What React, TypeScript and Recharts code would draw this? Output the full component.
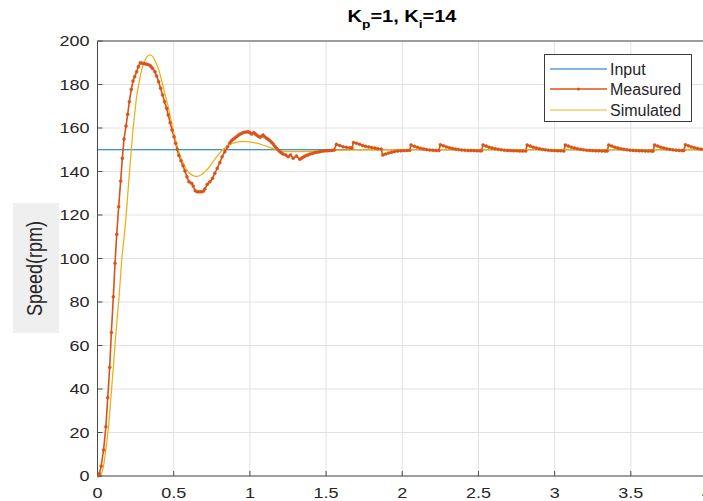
import { CartesianGrid, Legend, Line, LineChart, XAxis, YAxis } from "recharts";

// time (s), speed (rpm)
const inputPoints: [number, number][] = [
  [0, 150],
  [4, 150],
];

const measuredPoints: [number, number][] = [
  [0, 0], [0.012, 1], [0.024, 4.5], [0.04, 12], [0.055, 22.7], [0.067, 36], [0.08, 50],
  [0.091, 66], [0.104, 82.4], [0.115, 97.8], [0.126, 111.1], [0.139, 123.8], [0.152, 135.6],
  [0.163, 146.1], [0.174, 154.9], [0.187, 160.9], [0.198, 166.3], [0.209, 172.1], [0.222, 177.8],
  [0.233, 181.6], [0.244, 183.6], [0.257, 185.9], [0.268, 188.2], [0.281, 190], [0.292, 189.8],
  [0.305, 189.6], [0.318, 189.4], [0.33, 189.2], [0.344, 188.8], [0.353, 188.1], [0.362, 187.4],
  [0.377, 185.9], [0.388, 183.9], [0.401, 181.3], [0.414, 178.3], [0.427, 175.2], [0.44, 172.1],
  [0.454, 169.1], [0.464, 166], [0.477, 162.4], [0.489, 159.1], [0.502, 156], [0.513, 153],
  [0.523, 150.2], [0.534, 147.4], [0.548, 145], [0.561, 142.7], [0.574, 140.2], [0.587, 137.6],
  [0.6, 135.3], [0.618, 134.6], [0.628, 133.3], [0.641, 131.2], [0.654, 130.7], [0.667, 130.7],
  [0.68, 130.7], [0.694, 130.9], [0.705, 132], [0.72, 134.1], [0.738, 135.3], [0.755, 136.9],
  [0.77, 139.2], [0.786, 141.5], [0.803, 144.1], [0.818, 146.8], [0.836, 149.1], [0.854, 151.4],
  [0.869, 153.2], [0.879, 154.1], [0.89, 154.8], [0.901, 155.4], [0.913, 156], [0.923, 156.6],
  [0.934, 157.1], [0.945, 157.5], [0.956, 157.9], [0.969, 158.1], [0.982, 158.3], [0.991, 158.2],
  [1.0, 157.9], [1.011, 157.2], [1.026, 157.9], [1.035, 157.3], [1.044, 156.8], [1.055, 156.2],
  [1.066, 155.7], [1.077, 156.2], [1.087, 156.8], [1.098, 156], [1.11, 155.3], [1.12, 154.8],
  [1.131, 154.2], [1.142, 153.4], [1.153, 152.6], [1.164, 151.6], [1.175, 150.7], [1.186, 149.9],
  [1.197, 149.1], [1.208, 148.5], [1.218, 148], [1.236, 147.6], [1.251, 146.8], [1.267, 147.6],
  [1.284, 146.1], [1.306, 147.1], [1.328, 145.6], [1.341, 146.2], [1.354, 146.8], [1.366, 147.2],
  [1.38, 147.6], [1.393, 148], [1.408, 148.3], [1.422, 148.6], [1.437, 148.8], [1.452, 149],
  [1.466, 149.2], [1.481, 149.4], [1.496, 149.5], [1.51, 149.5], [1.525, 149.6], [1.539, 149.7],
  [1.553, 149.9], [1.568, 152.5], [1.59, 152], [1.612, 151.4], [1.634, 151.1], [1.656, 150.9],
  [1.67, 150.8], [1.68, 153.3], [1.7, 153], [1.72, 152.5], [1.74, 152], [1.76, 151.6],
  [1.78, 151.3], [1.8, 151], [1.82, 150.8], [1.84, 150.5], [1.862, 150.3], [1.872, 147.6],
  [1.89, 148], [1.91, 148.5], [1.93, 148.9], [1.95, 149.2], [1.97, 149.4], [1.99, 149.5],
  [2.01, 149.6], [2.03, 149.7], [2.048, 149.7], [2.058, 152.2], [2.08, 151.6], [2.1, 151.1],
  [2.12, 150.7], [2.14, 150.4], [2.16, 150.1], [2.18, 149.9], [2.2, 149.8], [2.22, 149.7],
  [2.24, 149.6], [2.25, 152.3], [2.27, 151.8], [2.29, 151.3], [2.31, 150.9], [2.33, 150.6],
  [2.35, 150.3], [2.37, 150.1], [2.39, 149.9], [2.41, 149.8], [2.43, 149.7], [2.45, 149.6],
  [2.47, 149.6], [2.49, 149.5], [2.51, 149.5], [2.52, 149.5], [2.53, 152.2], [2.55, 151.7],
  [2.57, 151.2], [2.59, 150.8], [2.61, 150.5], [2.63, 150.2], [2.65, 150], [2.67, 149.8],
  [2.69, 149.7], [2.71, 149.6], [2.73, 149.5], [2.75, 149.5], [2.77, 149.4], [2.79, 149.4],
  [2.81, 149.4], [2.82, 152.2], [2.84, 151.7], [2.86, 151.2], [2.88, 150.8], [2.9, 150.5],
  [2.92, 150.2], [2.94, 150], [2.96, 149.8], [2.98, 149.7], [3.0, 149.6], [3.02, 149.5],
  [3.04, 149.5], [3.06, 149.4], [3.07, 152.2], [3.09, 151.7], [3.11, 151.2], [3.13, 150.8],
  [3.15, 150.5], [3.17, 150.2], [3.19, 150], [3.21, 149.8], [3.23, 149.7], [3.25, 149.6],
  [3.27, 149.5], [3.29, 149.5], [3.31, 149.4], [3.33, 149.4], [3.345, 149.4], [3.355, 152.2],
  [3.375, 151.7], [3.395, 151.2], [3.415, 150.8], [3.435, 150.5], [3.455, 150.2], [3.475, 150],
  [3.495, 149.8], [3.515, 149.7], [3.535, 149.6], [3.555, 149.5], [3.575, 149.5], [3.595, 149.4],
  [3.615, 149.4], [3.635, 149.4], [3.646, 149.4], [3.656, 152.2], [3.676, 151.7], [3.696, 151.2],
  [3.716, 150.8], [3.736, 150.5], [3.756, 150.2], [3.776, 150], [3.796, 149.8], [3.816, 149.7],
  [3.836, 149.6], [3.848, 149.6], [3.858, 152.3], [3.878, 151.8], [3.898, 151.3], [3.918, 150.9],
  [3.938, 150.6], [3.958, 150.3], [3.978, 150.1], [4.0, 149.9],
];

const simulatedPoints: [number, number][] = [
  [0, 0], [0.02, 0.5], [0.035, 3], [0.049, 9], [0.06, 15], [0.073, 23], [0.088, 36],
  [0.104, 50], [0.12, 65], [0.141, 82], [0.16, 100], [0.175, 110], [0.187, 119], [0.198, 129],
  [0.209, 139], [0.22, 148.5], [0.231, 157.6], [0.244, 166.5], [0.257, 174.4], [0.273, 181],
  [0.29, 186.7], [0.306, 190.2], [0.322, 192.5], [0.344, 193.6], [0.366, 192.5], [0.382, 190.3],
  [0.399, 187.4], [0.415, 183.5], [0.431, 179], [0.447, 174.5], [0.464, 169.8], [0.48, 164.5],
  [0.497, 159.1], [0.513, 154.3], [0.53, 149.9], [0.546, 146.5], [0.563, 143.8], [0.579, 141.6],
  [0.595, 139.9], [0.612, 138.8], [0.628, 138.1], [0.645, 137.8], [0.661, 137.9], [0.678, 138.4],
  [0.694, 139.2], [0.711, 140.3], [0.727, 141.5], [0.743, 143], [0.759, 144.5], [0.776, 146.1],
  [0.792, 147.6], [0.808, 149], [0.825, 150.2], [0.841, 151.1], [0.858, 151.9], [0.874, 152.5],
  [0.89, 153], [0.912, 153.4], [0.934, 153.7], [0.962, 153.8], [0.989, 153.7], [1.016, 153.4],
  [1.044, 153], [1.071, 152.5], [1.098, 151.9], [1.125, 151.2], [1.153, 150.5], [1.18, 149.9],
  [1.208, 149.4], [1.235, 149.2], [1.262, 149.1], [1.3, 149.1], [1.35, 149.2], [1.4, 149.3],
  [1.5, 149.5], [1.6, 149.8], [1.7, 150], [2, 150], [4, 150],
];

const xTicks = [0, 0.5, 1, 1.5, 2, 2.5, 3, 3.5, 4];
const yTicks = [0, 20, 40, 60, 80, 100, 120, 140, 160, 180, 200];
const seriesNames = ["Input", "Measured", "Simulated"];
const seriesColors = ["#0072BD", "#D95319", "#EDB120"];

const FONT = "'Liberation Sans', Arial, sans-serif";
const AXIS = "#4a4a4a";

const toRows = (pts: [number, number][]) => pts.map(([t, v]) => ({ t, v }));

function XTick({ x, y, payload }: any) {
  return (
    <g transform={`translate(${x},${y}) scale(1.2,1)`}>
      <text x={0} y={0} dy="0.71em" textAnchor="middle" fill="#262626" fontSize={15} fontFamily={FONT}>
        {payload.value}
      </text>
    </g>
  );
}

function YTick({ x, y, payload }: any) {
  return (
    <g transform={`translate(${x},${y}) scale(1.2,1)`}>
      <text x={0} y={0} dy="0.355em" textAnchor="end" fill="#262626" fontSize={15} fontFamily={FONT}>
        {payload.value}
      </text>
    </g>
  );
}

function LegendBox() {
  const rowY = [14, 34, 55];
  return (
    <div style={{ width: 148, height: 68, boxSizing: "border-box", border: "1px solid #3c3c3c", background: "#fff" }}>
      <svg width={146} height={66} style={{ display: "block" }}>
        {seriesNames.map((name, i) => (
          <g key={name}>
            <line x1={5} x2={62} y1={rowY[i]} y2={rowY[i]} stroke={seriesColors[i]} strokeWidth={i === 1 ? 1.6 : 1.2} />
            {i === 1 && <circle cx={33.5} cy={rowY[i]} r={1.6} fill={seriesColors[i]} />}
            <text x={65} y={rowY[i]} dy="0.35em" fontSize={16} fill="#262626" fontFamily={FONT}>
              {name}
            </text>
          </g>
        ))}
      </svg>
    </div>
  );
}

export default function App() {
  return (
    <div
      style={{
        position: "fixed",
        left: 0,
        top: 0,
        width: 703,
        height: 501,
        overflow: "hidden",
        background: "#fff",
        fontFamily: FONT,
      }}
    >
      <div
        style={{
          position: "absolute",
          left: 302,
          top: 9,
          width: 200,
          textAlign: "center",
          fontSize: 16,
          lineHeight: "16px",
          fontWeight: "bold",
          color: "#000",
          transform: "scaleX(1.25)",
          whiteSpace: "nowrap",
        }}
      >
        K<span style={{ fontSize: 11, position: "relative", top: 6 }}>p</span>=1, K
        <span style={{ fontSize: 11, position: "relative", top: 6 }}>i</span>=14
      </div>

      <div
        style={{
          position: "absolute",
          left: 13,
          top: 203,
          width: 46,
          height: 130,
          background: "#efefef",
          display: "flex",
          alignItems: "center",
          justifyContent: "center",
        }}
      >
        <span
          style={{
            display: "inline-block",
            whiteSpace: "nowrap",
            fontSize: 18,
            color: "#262626",
            transform: "rotate(-90deg) scaleY(1.2)",
          }}
        >
          Speed(rpm)
        </span>
      </div>

      <LineChart width={720} height={501} margin={{ top: 40, right: 0, bottom: 0, left: 37.5 }}>
        <CartesianGrid stroke="#e2e2e2" strokeWidth={1} />
        <XAxis
          dataKey="t"
          type="number"
          domain={[0, 4]}
          ticks={xTicks}
          allowDataOverflow
          height={25}
          stroke={AXIS}
          tickSize={-5}
          tickMargin={16}
          tick={<XTick />}
        />
        <XAxis
          xAxisId="top"
          orientation="top"
          type="number"
          domain={[0, 4]}
          ticks={xTicks}
          height={1}
          stroke={AXIS}
          tickSize={-5}
          tick={false}
        />
        <YAxis
          type="number"
          domain={[0, 200]}
          ticks={yTicks}
          width={60}
          stroke={AXIS}
          tickSize={-5}
          tickMargin={13}
          tick={<YTick />}
        />
        <YAxis
          yAxisId="right"
          orientation="right"
          type="number"
          domain={[0, 200]}
          ticks={yTicks}
          width={13}
          stroke={AXIS}
          tickSize={-5}
          tick={false}
        />
        <Line
          data={toRows(inputPoints)}
          dataKey="v"
          name={seriesNames[0]}
          type="linear"
          stroke={seriesColors[0]}
          strokeWidth={1.2}
          dot={false}
          isAnimationActive={false}
        />
        <Line
          data={toRows(measuredPoints)}
          dataKey="v"
          name={seriesNames[1]}
          type="linear"
          stroke={seriesColors[1]}
          strokeWidth={1.6}
          dot={{ r: 1.5, fill: seriesColors[1], stroke: seriesColors[1], strokeWidth: 0.5 }}
          isAnimationActive={false}
        />
        <Line
          data={toRows(simulatedPoints)}
          dataKey="v"
          name={seriesNames[2]}
          type="monotone"
          stroke={seriesColors[2]}
          strokeWidth={1.3}
          dot={false}
          isAnimationActive={false}
        />
        <Legend
          layout="vertical"
          align="center"
          verticalAlign="middle"
          wrapperStyle={{ left: 544, top: 54, width: 148, height: 68 }}
          content={() => <LegendBox />}
        />
      </LineChart>
    </div>
  );
}
